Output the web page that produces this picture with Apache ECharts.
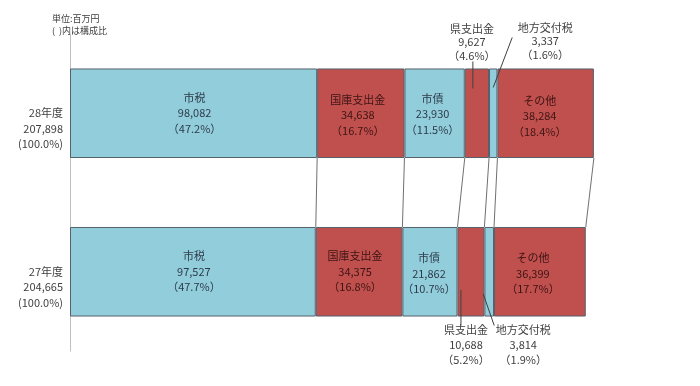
<!DOCTYPE html>
<html>
<head>
<meta charset="utf-8">
<script src="https://cdn.jsdelivr.net/npm/echarts@6/dist/echarts.min.js"></script>
<style>html,body{margin:0;padding:0;background:#fff;}#c{width:700px;height:386px;}</style>
</head>
<body>
<div id="c"></div>
<script>
const categories = ['28年度', '27年度'];
const totals = [207898, 204665];
const totalPct = ['100.0%', '100.0%'];
const names = ['市税', '国庫支出金', '市債', '県支出金', '地方交付税', 'その他'];
const v28 = [98082, 34638, 23930, 9627, 3337, 38284];
const v27 = [97527, 34375, 21862, 10688, 3814, 36399];
const p28 = ['47.2%', '16.7%', '11.5%', '4.6%', '1.6%', '18.4%'];
const p27 = ['47.7%', '16.8%', '10.7%', '5.2%', '1.9%', '17.7%'];

const BLUE = '#92CDDC', RED = '#C0504D';
const GAP = 0.435;
const fmt = v => v.toLocaleString('en-US');
const font = '"Noto Sans CJK JP", "Noto Sans", sans-serif';

function cum(arr) { let s = 0; return arr.map(v => (s += v)); }
const c28 = cum(v28), c27 = cum(v27);

const labelCfg = {
  0: [{ offset: [1, 0] }, { offset: [1, 0] }],
  1: [{ offset: [-3, 2] }, { offset: [-4, 0] }],
  2: [{ offset: [-2, 1] }, { offset: [-1, 2] }],
  3: [{ position: 'top', distance: 6, offset: [-5, 0], lineHeight: 13.5, color: '#404040' },
      { position: 'bottom', distance: 6, offset: [-5, 0], lineHeight: 15, color: '#404040' }],
  4: [{ position: 'top', distance: 7, offset: [52, 0], lineHeight: 13.5, color: '#404040' },
      { position: 'bottom', distance: 6, offset: [34, 0], lineHeight: 15, color: '#404040' }],
  5: [{ offset: [-6, 3] }, { offset: [-7, 2] }]
};

const series = names.map((n, i) => {
  const color = i % 2 === 0 ? BLUE : RED;
  const txtColor = i % 2 === 0 ? '#2e3b48' : '#3c1414';
  return {
    name: n,
    type: 'bar',
    stack: 'total',
    barCategoryGap: (GAP * 100) + '%',
    itemStyle: { color: color, borderColor: '#55606a', borderWidth: 1 },
    label: {
      show: true, position: 'inside', fontSize: 11, lineHeight: 15.5,
      fontFamily: font, color: txtColor
    },
    data: [v28[i], v27[i]].map((v, r) => {
      const pct = r === 0 ? p28[i] : p27[i];
      return {
        value: v,
        label: Object.assign({
          formatter: n + '\n' + fmt(v) + '\n（' + pct + '）'
        }, labelCfg[i][r])
      };
    })
  };
});

// connector lines between the two bars
series.push({
  type: 'custom',
  z: 5,
  clip: false,
  silent: true,
  data: c28.map((v, i) => [v, 0, c27[i], 1]),
  encode: { x: [0, 2], y: [1, 3] },
  renderItem: function (params, api) {
    const p1 = api.coord([api.value(0), api.value(1)]);
    const p2 = api.coord([api.value(2), api.value(3)]);
    const band = api.size([0, 1])[1];
    const half = band * (1 - GAP) / 2;
    return {
      type: 'line',
      shape: { x1: p1[0], y1: p1[1] + half, x2: p2[0], y2: p2[1] - half },
      style: { stroke: '#707070', lineWidth: 1 }
    };
  }
});

// leader lines for small segments
const leaders = [
  { s: 3, r: 0, a: [-4, -7, 'top'], b: [-4, 20, 'top'] },
  { s: 4, r: 0, a: [19, -31, 'top'], b: [0, 19, 'top'] },
  { s: 3, r: 1, a: [-10, 63, 'top'], b: [-10, 9, 'bottom'] },
  { s: 4, r: 1, a: [-6, 67, 'top'], b: [5, 9, 'bottom'] }
];
series.push({
  type: 'custom',
  z: 6,
  clip: false,
  silent: true,
  data: leaders.map(l => {
    const cs = l.r === 0 ? c28 : c27;
    const vs = l.r === 0 ? v28 : v27;
    return [cs[l.s] - vs[l.s] / 2, l.r];
  }),
  encode: { x: 0, y: 1 },
  renderItem: function (params, api) {
    const l = leaders[params.dataIndex];
    const p = api.coord([api.value(0), api.value(1)]);
    const band = api.size([0, 1])[1];
    const half = band * (1 - GAP) / 2;
    const yOf = (pt) => (pt[2] === 'top' ? p[1] - half : p[1] + half) + pt[1];
    return {
      type: 'line',
      shape: { x1: p[0] + l.a[0], y1: yOf(l.a), x2: p[0] + l.b[0], y2: yOf(l.b) },
      style: { stroke: '#404040', lineWidth: 1 }
    };
  }
});

const chart = echarts.init(document.getElementById('c'), null, { renderer: 'canvas' });
chart.setOption({
  animation: false,
  backgroundColor: '#fff',
  grid: { left: 70, top: 34, right: 0, bottom: 35, containLabel: false },
  xAxis: { type: 'value', min: 0, max: 250000, show: false },
  yAxis: {
    type: 'category',
    inverse: true,
    data: categories,
    axisLine: { lineStyle: { color: '#bfbfbf', width: 1 } },
    axisTick: { show: false },
    axisLabel: {
      margin: 7,
      fontSize: 11,
      lineHeight: 15.5,
      fontFamily: font,
      color: '#404040',
      align: 'right',
      formatter: function (v, idx) {
        return '\n\n' + v + '\n' + fmt(totals[idx]) + '\n(' + totalPct[idx] + ')';
      }
    }
  },
  graphic: [{
    type: 'text', left: 52, top: 13,
    style: { text: '単位:百万円\n(  )内は構成比', fontSize: 9, lineHeight: 12, fill: '#404040', fontFamily: font }
  }],
  series: series
});
</script>
</body>
</html>
